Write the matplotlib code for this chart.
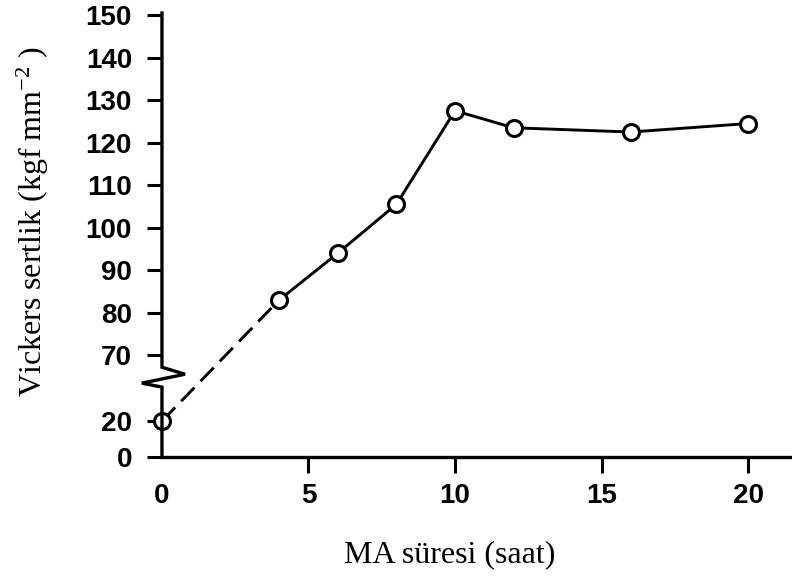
import numpy as np
import matplotlib
matplotlib.use("Agg")
import matplotlib.pyplot as plt

# Milling time (hours) and Vickers hardness (kgf mm^-2)
hours = [0, 4, 6, 8, 10, 12, 16, 20]
hardness = [20, 83, 94, 105.5, 127.5, 123.5, 122.5, 124.5]

y_ticks = [0, 20, 70, 80, 90, 100, 110, 120, 130, 140, 150]
x_ticks = [0, 5, 10, 15, 20]

plt.rcParams["mathtext.fontset"] = "custom"
plt.rcParams["mathtext.rm"] = "Liberation Serif"
plt.rcParams["mathtext.it"] = "Liberation Serif:italic"

# Broken y axis: compressed 0-20 band, break, then 70-150 at full scale
def fwd(v):
    v = np.asarray(v, dtype=float)
    return np.where(v <= 20, v * 1.8,
                    np.where(v <= 70, 36 + (v - 20) * 1.32,
                             102 + (v - 70) * 4.2625))

def inv(p):
    p = np.asarray(p, dtype=float)
    return np.where(p <= 36, p / 1.8,
                    np.where(p <= 102, 20 + (p - 36) / 1.32,
                             70 + (p - 102) / 4.2625))

fig = plt.figure(figsize=(7.92, 5.77), dpi=100)
ax = fig.add_axes([0.2045, 0.208, 0.7955, 0.7695])
ax.set_yscale("function", functions=(fwd, inv))
ax.set_xlim(0, 21.5)
ax.set_ylim(0, 150.5)

lw_axis = 2.4
# dashed first segment, solid after
ax.plot(hours[:2], hardness[:2], color="black", lw=2.1,
        linestyle=(0, (6.5, 3.0)), zorder=2)
ax.plot(hours[1:], hardness[1:], color="black", lw=2.1, zorder=2)
ax.plot(hours, hardness, linestyle="none", marker="o", ms=11.5,
        mfc="white", mec="black", mew=2.2, zorder=3, clip_on=False)

# spines
for s in ("top", "right", "left"):
    ax.spines[s].set_visible(False)
ax.spines["bottom"].set_linewidth(lw_axis)

# left axis line with zigzag break symbol
brk_v = [150.5, 60.9, 55.6, 48.8, 45.8, 0]
brk_x = [0, 0, 0.0365, -0.032, 0, 0]
ax.plot(brk_x, brk_v, transform=ax.get_yaxis_transform(), color="black",
        lw=lw_axis, clip_on=False, solid_joinstyle="miter", zorder=4)

ax.set_yticks(y_ticks)
ax.set_yticklabels([str(t) for t in y_ticks])
ax.set_xticks(x_ticks)
ax.set_xticklabels([str(t) for t in x_ticks])
ax.yaxis.set_minor_locator(matplotlib.ticker.NullLocator())
ax.tick_params(axis="y", direction="out", length=11, width=2.2, pad=10.5)
ax.tick_params(axis="x", direction="out", length=11.5, width=2.2, pad=7)
ax.xaxis.get_major_ticks()[0].tick1line.set_visible(False)
for lab in ax.get_xticklabels() + ax.get_yticklabels():
    lab.set_fontfamily("Liberation Sans")
    lab.set_fontweight("bold")
    lab.set_fontsize(20)

fig.text(0.568, 0.026, "MA süresi (saat)", family="Liberation Serif",
         fontsize=23, ha="center", va="baseline")
fig.text(0.042, 0.615, r"Vickers sertlik (kgf mm$^{\mathregular{-2}}$ )",
         family="Liberation Serif", fontsize=23, rotation=90,
         ha="center", va="center")

fig.savefig("out.png", dpi=100)
